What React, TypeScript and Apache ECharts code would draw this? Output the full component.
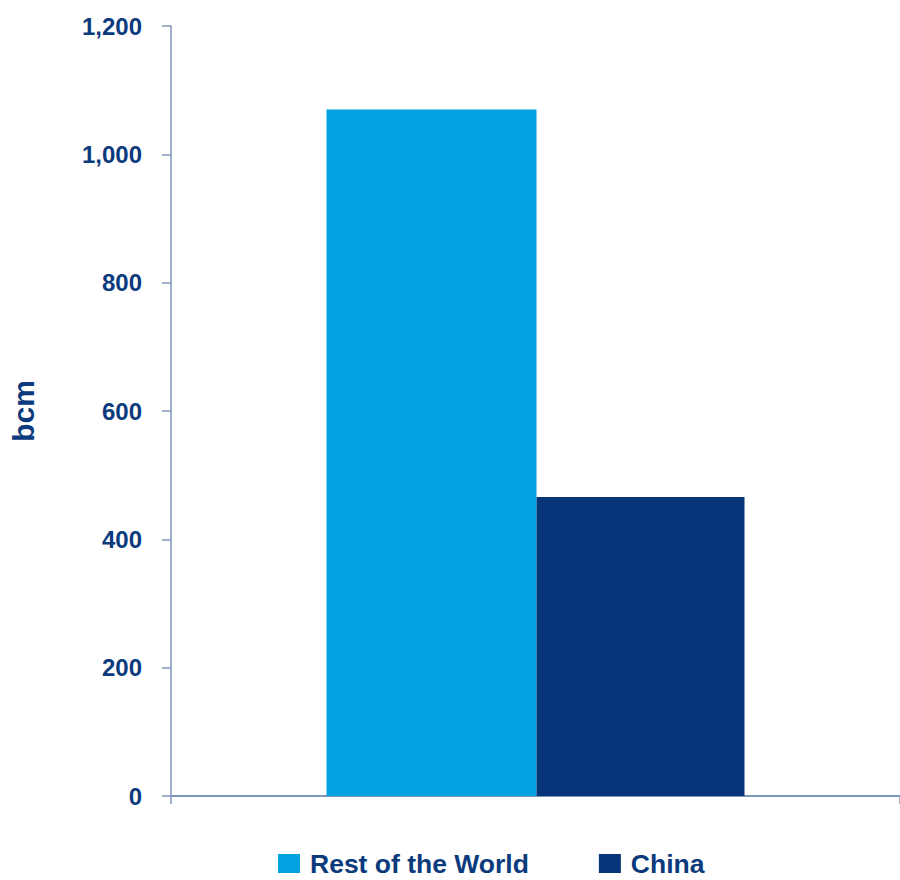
import React, { useEffect, useRef } from "react";
import * as echarts from "echarts";

const categories = ["Total"];
const seriesNames = ["Rest of the World", "China"];
const restOfWorld = [1070];
const china = [466];
const yTicks = [0, 200, 400, 600, 800, 1000, 1200];

const TEXT = "#0B3A7D";
const AXIS = "#7F96BC";
const FONT = "Arial, 'Liberation Sans', sans-serif";

export default function App() {
  const ref = useRef<HTMLDivElement>(null);
  useEffect(() => {
    if (!ref.current) return;
    const chart = echarts.init(ref.current, undefined, { renderer: "svg" });
    chart.setOption({
      animation: false,
      grid: { left: 171, right: 0, top: 26, bottom: 84 },
      legend: {
        data: seriesNames,
        left: 278,
        top: 850,
        padding: 0,
        itemWidth: 22,
        itemHeight: 19,
        itemGap: 70,
        icon: "rect",
        textStyle: {
          color: TEXT,
          fontSize: 26.5,
          lineHeight: 24,
          fontWeight: "bold",
          fontFamily: FONT,
          padding: [0, 0, 0, 5],
        },
      },
      xAxis: {
        type: "category",
        data: categories,
        axisLine: { lineStyle: { color: AXIS, width: 2 } },
        axisTick: { show: true, length: 8, lineStyle: { color: AXIS, width: 1.5 } },
        axisLabel: { show: false },
      },
      yAxis: {
        type: "value",
        min: yTicks[0],
        max: yTicks[yTicks.length - 1],
        interval: 200,
        name: "bcm",
        nameLocation: "middle",
        nameGap: 133,
        nameTextStyle: { color: TEXT, fontSize: 30, fontWeight: "bold", fontFamily: FONT },
        axisLine: { show: true, lineStyle: { color: AXIS, width: 1.5 } },
        axisTick: { show: true, length: 9, lineStyle: { color: AXIS, width: 1.5 } },
        splitLine: { show: false },
        axisLabel: {
          margin: 29,
          color: TEXT,
          fontSize: 24,
          fontWeight: "bold",
          fontFamily: FONT,
          formatter: (v: number) => v.toLocaleString("en-US"),
        },
      },
      series: [
        {
          name: seriesNames[0],
          type: "bar",
          data: restOfWorld,
          barWidth: 210,
          barGap: "0%",
          itemStyle: { color: "#00A3E0" },
        },
        {
          name: seriesNames[1],
          type: "bar",
          data: china,
          barWidth: 208,
          barGap: "0%",
          itemStyle: { color: "#063579" },
        },
      ],
    });
    return () => chart.dispose();
  }, []);
  return (
    <div
      ref={ref}
      style={{ position: "fixed", left: 0, top: 0, width: 900, height: 880, background: "#fff" }}
    />
  );
}
